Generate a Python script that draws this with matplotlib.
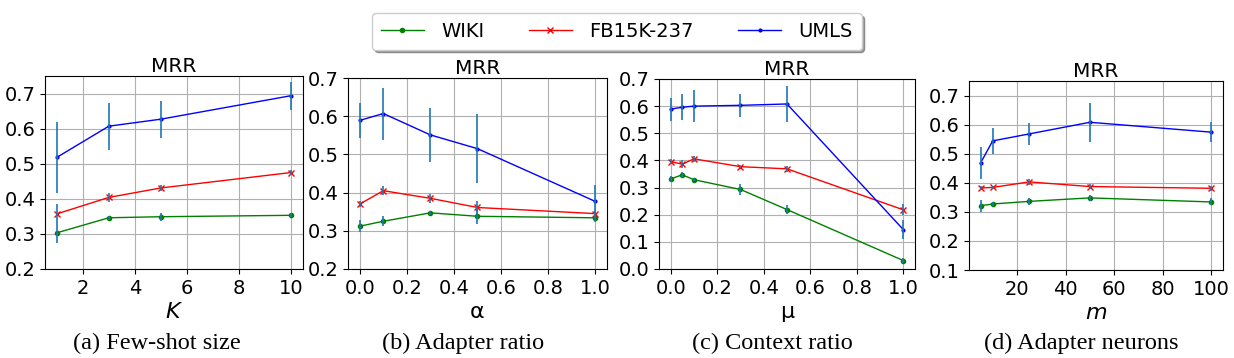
import numpy as np
import matplotlib.pyplot as plt
from matplotlib.lines import Line2D

# ─── Data ────────────────────────────────────────
series = ["WIKI", "FB15K-237", "UMLS"]

# (a) few-shot size K
k_vals = [1, 3, 5, 10]
k_wiki = [0.303, 0.346, 0.349, 0.353]
k_wiki_err = [0.028, 0.006, 0.012, 0.006]
k_fb = [0.357, 0.404, 0.431, 0.475]
k_fb_err = [0.027, 0.012, 0.009, 0.006]
k_umls = [0.518, 0.607, 0.627, 0.694]
k_umls_err = [0.101, 0.067, 0.053, 0.040]

# (b) adapter ratio alpha
a_vals = [0.0, 0.1, 0.3, 0.5, 1.0]
a_wiki = [0.312, 0.325, 0.347, 0.338, 0.334]
a_wiki_err = [0.015, 0.013, 0.006, 0.019, 0.010]
a_fb = [0.370, 0.405, 0.385, 0.361, 0.345]
a_fb_err = [0.008, 0.012, 0.012, 0.018, 0.006]
a_umls = [0.589, 0.607, 0.551, 0.515, 0.377]
a_umls_err = [0.045, 0.068, 0.070, 0.090, 0.043]

# (c) context ratio mu
m_vals = [0.0, 0.05, 0.1, 0.3, 0.5, 1.0]
m_wiki = [0.332, 0.347, 0.329, 0.293, 0.219, 0.031]
m_wiki_err = [0.010, 0.010, 0.006, 0.020, 0.015, 0.010]
m_fb = [0.396, 0.386, 0.406, 0.377, 0.369, 0.218]
m_fb_err = [0.008, 0.015, 0.010, 0.005, 0.012, 0.020]
m_umls = [0.589, 0.596, 0.600, 0.603, 0.608, 0.145]
m_umls_err = [0.042, 0.047, 0.058, 0.043, 0.068, 0.035]

# (d) adapter neurons m
n_vals = [5, 10, 25, 50, 100]
n_wiki = [0.321, 0.327, 0.336, 0.348, 0.334]
n_wiki_err = [0.020, 0.008, 0.012, 0.010, 0.012]
n_fb = [0.382, 0.384, 0.403, 0.387, 0.381]
n_fb_err = [0.008, 0.005, 0.010, 0.008, 0.008]
n_umls = [0.468, 0.544, 0.568, 0.608, 0.574]
n_umls_err = [0.056, 0.046, 0.038, 0.067, 0.034]

panels = [
    (k_vals, [(k_wiki, k_wiki_err), (k_fb, k_fb_err), (k_umls, k_umls_err)],
     r"$K$", (0.2, 0.75), [0.2, 0.3, 0.4, 0.5, 0.6, 0.7], [2, 4, 6, 8, 10]),
    (a_vals, [(a_wiki, a_wiki_err), (a_fb, a_fb_err), (a_umls, a_umls_err)],
     "α", (0.2, 0.7), [0.2, 0.3, 0.4, 0.5, 0.6, 0.7], [0.0, 0.2, 0.4, 0.6, 0.8, 1.0]),
    (m_vals, [(m_wiki, m_wiki_err), (m_fb, m_fb_err), (m_umls, m_umls_err)],
     "μ", (0.0, 0.7), [0.0, 0.1, 0.2, 0.3, 0.4, 0.5, 0.6, 0.7], [0.0, 0.2, 0.4, 0.6, 0.8, 1.0]),
    (n_vals, [(n_wiki, n_wiki_err), (n_fb, n_fb_err), (n_umls, n_umls_err)],
     r"$m$", (0.1, 0.75), [0.1, 0.2, 0.3, 0.4, 0.5, 0.6, 0.7], [20, 40, 60, 80, 100]),
]
captions = ["(a) Few-shot size", "(b) Adapter ratio", "(c) Context ratio", "(d) Adapter neurons"]
caption_x = [157, 463, 772, 1081]

colors = ["green", "red", "blue"]
markers = [".", "x", "."]
msizes = [6, 4, 4]

# axes boxes in pixels: left, right, top, bottom
boxes = [(45, 303, 76, 269), (348, 607, 78, 269), (659, 915, 79, 269), (969, 1223, 81, 270)]

W, H = 1234, 358
plt.rcParams['mathtext.fontset'] = 'dejavusans'
fig = plt.figure(figsize=(W / 100, H / 100), dpi=100)

for (xv, ys, xlabel, ylim, yticks, xticks), (l, r, t, b), cap, cx in zip(panels, boxes, captions, caption_x):
    ax = fig.add_axes([l / W, 1 - b / H, (r - l) / W, (b - t) / H])
    for (y, e), c, mk, ms in zip(ys, colors, markers, msizes):
        ax.plot(xv, y, color=c, marker=mk, markersize=ms, lw=1.0)
        ax.errorbar(xv, y, yerr=e, fmt='none', ecolor='#1f77b4', elinewidth=1.2)
    ax.set_ylim(*ylim)
    ax.set_yticks(yticks)
    ax.set_xticks(xticks)
    ax.tick_params(labelsize=14)
    ax.grid(True, color='#b0b0b0', lw=0.8)
    ax.set_title("MRR", fontsize=14.5, pad=3)
    ax.set_xlabel(xlabel, fontsize=16, labelpad=3)
    fig.text(cx / W, 1 - 343 / H, cap, ha='center', va='center',
             fontsize=17.5, family='Liberation Serif')

handles = [Line2D([], [], color=c, marker=mk, markersize=ms, lw=1.0)
           for c, mk, ms in zip(colors, markers, msizes)]
fig.legend(handles, series, loc='upper center', bbox_to_anchor=(0.5, 0.99),
           ncol=3, fontsize=14, shadow=True, fancybox=True, borderpad=0.45,
           columnspacing=2.3, handlelength=2.2, handletextpad=0.9)

fig.savefig("out.png", dpi=100)
